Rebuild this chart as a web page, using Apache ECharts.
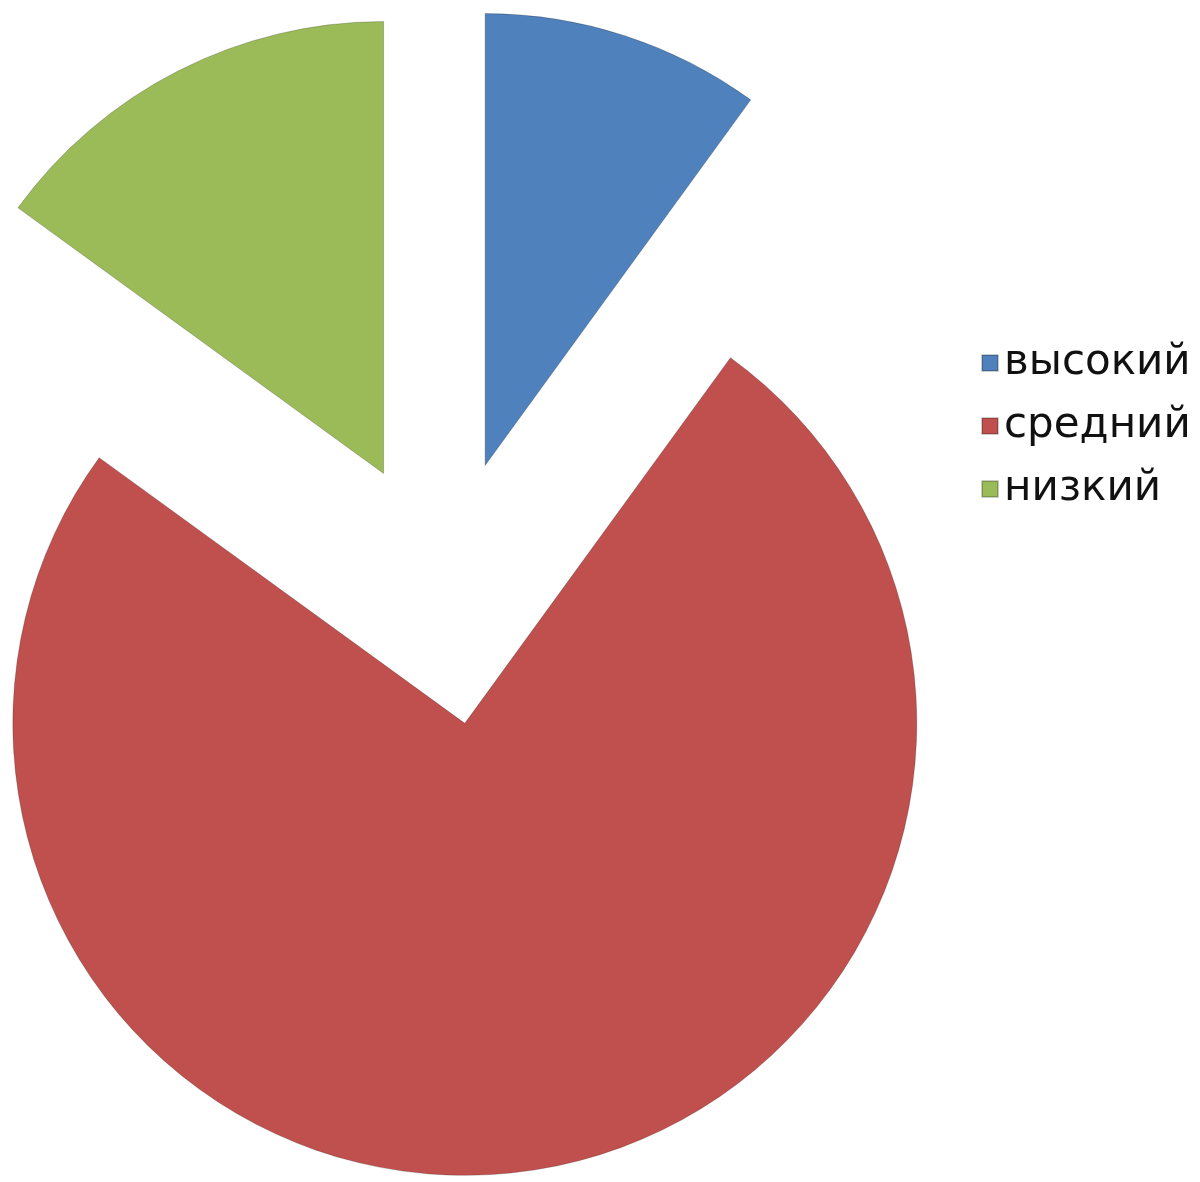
<!DOCTYPE html>
<html><head><meta charset="utf-8">
<script src="https://cdn.jsdelivr.net/npm/echarts@6/dist/echarts.min.js"></script>
<style>html,body{margin:0;padding:0;background:#fff}#c{width:1200px;height:1182px}</style>
</head><body><div id="c"></div>
<script>
const categories = ['высокий', 'средний', 'низкий'];
const values = [10, 75, 15];
const colors = ['#4F81BD', '#C0504D', '#9BBB59'];

const chart = echarts.init(document.getElementById('c'), null, {renderer: 'canvas'});
chart.setOption({
  animation: false,
  backgroundColor: '#ffffff',
  legend: {
    orient: 'vertical',
    left: 976,
    top: 336,
    itemWidth: 16,
    itemHeight: 16,
    itemGap: 19,
    icon: 'rect',
    data: categories,
    textStyle: {fontFamily: 'DejaVu Sans', fontSize: 42, lineHeight: 44, color: '#111', padding: [0,0,0,1]},
    selectedMode: false
  },
  series: [{
    type: 'pie',
    center: [444, 592],
    radius: [0, 452],
    startAngle: 90,
    clockwise: true,
    selectedMode: 'multiple',
    selectedOffset: 133,
    label: {show: false},
    labelLine: {show: false},
    emphasis: {disabled: true},
    itemStyle: {borderColor: 'rgba(0,0,0,0.2)', borderWidth: 1},
    data: categories.map((n, i) => ({name: n, value: values[i], selected: true, itemStyle: {color: colors[i]}}))
  }]
});
</script></body></html>
